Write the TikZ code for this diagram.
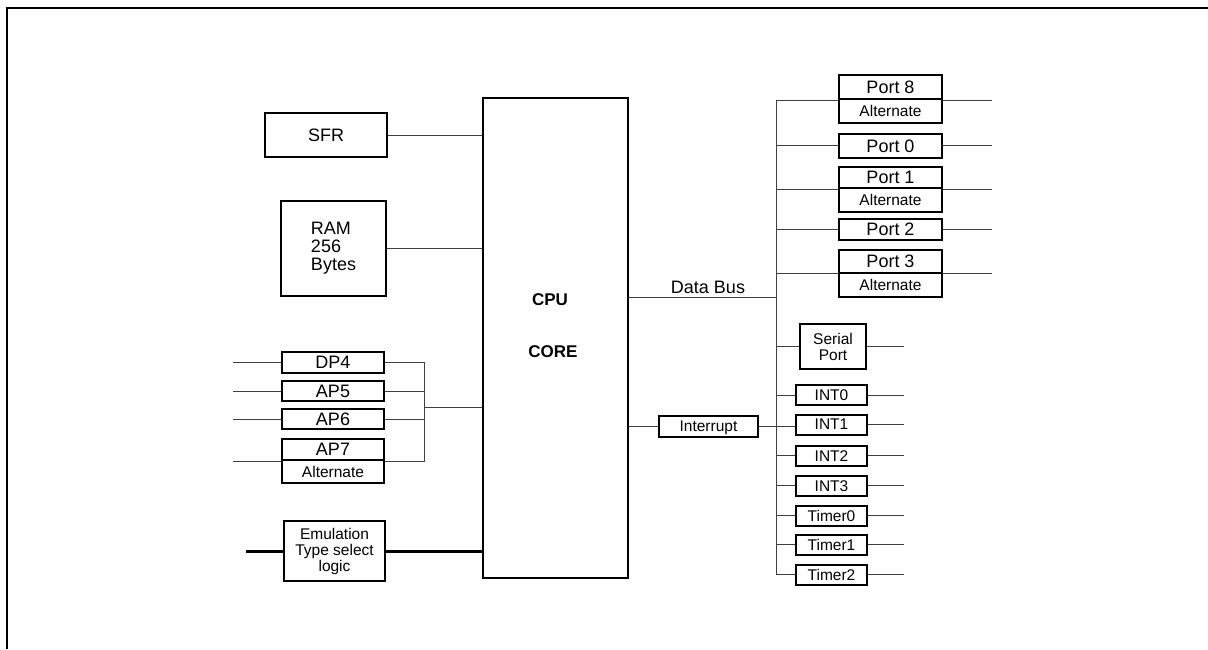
\documentclass[tikz,border=0pt]{standalone}
\usepackage{fontspec}
\setmainfont{Liberation Sans}
\begin{document}
\begin{tikzpicture}[x=1pt,y=-1pt,
  box/.style={draw, line width=2pt, inner sep=0pt, font=\fontsize{18}{20}\selectfont},
  sbox/.style={box, font=\fontsize{15.5}{16}\selectfont},
  wire/.style={line width=1pt, draw=black!75},
  heavy/.style={line width=3pt, draw=black},
  frame/.style={line width=2pt, draw=black}]
\useasboundingbox (0,0) rectangle (1208,649);
\draw[frame] (7,649) -- (7,8) -- (1208,8);

% left column
\node[box, minimum width=122pt, minimum height=44pt] (sfr) at (326,135) {SFR};
\node[box, minimum width=105pt, minimum height=95pt, align=left, font=\fontsize{18}{18}\selectfont] (ram) at (333.5,248.5) {RAM\\256\\Bytes};
\node[box, minimum width=145pt, minimum height=480pt] (cpu) at (555.5,338) {};
\node[font=\bfseries\fontsize{17}{19}\selectfont, anchor=base] (cputxt) at (550,305) {CPU};
\node[font=\bfseries\fontsize{17}{19}\selectfont, anchor=base] (coretxt) at (553,357) {CORE};

\node[box, minimum width=102pt, minimum height=21pt] (dp4) at (333,362.5) {DP4};
\node[box, minimum width=102pt, minimum height=20pt] (ap5) at (333,391) {AP5};
\node[box, minimum width=102pt, minimum height=20pt] (ap6) at (333,419) {AP6};
\node[box, minimum width=102pt, minimum height=21pt] (ap7) at (333,449.5) {AP7};
\node[sbox, minimum width=102pt, minimum height=23pt] (ap7a) at (333,471.5) {Alternate};
\node[sbox, minimum width=101pt, minimum height=60pt, align=center, font=\fontsize{15.5}{16}\selectfont] (emu) at (334.5,551) {Emulation\\Type select\\logic};

\coordinate (outL) at (233,0);
\coordinate (emuL) at (246,0);
\coordinate (lbus) at (424,0);
\coordinate (lmid) at (424,407);

\draw[wire] (dp4.west -| outL) -- (dp4.west);
\draw[wire] (ap5.west -| outL) -- (ap5.west);
\draw[wire] (ap6.west -| outL) -- (ap6.west);
\draw[wire] (ap7.south west -| outL) -- (ap7.south west);
\draw[wire] (dp4.east) -- (dp4.east -| lbus) -- (ap7.south east -| lbus) -- (ap7.south east);
\draw[wire] (ap5.east) -- (ap5.east -| lbus);
\draw[wire] (ap6.east) -- (ap6.east -| lbus);
\draw[wire] (lmid) -- (lmid -| cpu.west);
\draw[wire] (sfr.east) -- (sfr.east -| cpu.west);
\draw[wire] (ram.east) -- (ram.east -| cpu.west);
\draw[heavy] (emu.west -| emuL) -- (emu.west);
\draw[heavy] (emu.east) -- (emu.east -| cpu.west);

% right column
\node[box, minimum width=103pt, minimum height=24.3pt] (p8) at (890.5,87.2) {Port 8};
\node[sbox, minimum width=103pt, minimum height=24pt] (p8a) at (890.5,111.3) {Alternate};
\node[box, minimum width=103pt, minimum height=23.7pt] (p0) at (890.5,145.9) {Port 0};
\node[box, minimum width=103pt, minimum height=21.6pt] (p1) at (890.5,177.5) {Port 1};
\node[sbox, minimum width=103pt, minimum height=23.4pt] (p1a) at (890.5,200) {Alternate};
\node[box, minimum width=103pt, minimum height=21.3pt] (p2) at (890.5,229.7) {Port 2};
\node[box, minimum width=103pt, minimum height=23pt] (p3) at (890.5,261.2) {Port 3};
\node[sbox, minimum width=103pt, minimum height=24pt] (p3a) at (890.5,284.7) {Alternate};

\node[sbox, minimum width=66pt, minimum height=45pt, align=center] (ser) at (833,346.5) {Serial\\Port};
\node[sbox, minimum width=71pt, minimum height=20pt] (i0) at (831.5,395) {INT0};
\node[sbox, minimum width=71pt, minimum height=20pt] (i1) at (831.5,424.5) {INT1};
\node[sbox, minimum width=71pt, minimum height=20pt] (i2) at (831.5,455.9) {INT2};
\node[sbox, minimum width=71pt, minimum height=20pt] (i3) at (831.5,485.9) {INT3};
\node[sbox, minimum width=71pt, minimum height=20pt] (t0) at (831.5,515.9) {Timer0};
\node[sbox, minimum width=71pt, minimum height=20pt] (t1) at (831.5,544.9) {Timer1};
\node[sbox, minimum width=71pt, minimum height=20pt] (t2) at (831.5,574.7) {Timer2};
\node[sbox, minimum width=99pt, minimum height=21pt, text depth=0pt] (intr) at (708.5,426) {Interrupt};

\coordinate (rbus) at (776,0);
\coordinate (outR) at (992,0);
\coordinate (outS) at (904,0);
\coordinate (db) at (776,297);
\node[font=\fontsize{18}{20}\selectfont, anchor=base] (dbl) at (708,293) {Data Bus};

\draw[wire] (db -| cpu.east) -- (db);
\draw[wire] (p8.south west -| rbus) -- (t2.west -| rbus);

\draw[wire] (p8.south west -| rbus) -- (p8.south west);
\draw[wire] (p8.south east) -- (p8.south east -| outR);
\draw[wire] (p0.west -| rbus) -- (p0.west);
\draw[wire] (p0.east) -- (p0.east -| outR);
\draw[wire] (p1.south west -| rbus) -- (p1.south west);
\draw[wire] (p1.south east) -- (p1.south east -| outR);
\draw[wire] (p2.west -| rbus) -- (p2.west);
\draw[wire] (p2.east) -- (p2.east -| outR);
\draw[wire] (p3.south west -| rbus) -- (p3.south west);
\draw[wire] (p3.south east) -- (p3.south east -| outR);

\foreach \n in {ser,i0,i2,i3,t0,t1,t2}{
  \draw[wire] (\n.west -| rbus) -- (\n.west);
  \draw[wire] (\n.east) -- (\n.east -| outS);
}
\draw[wire] (i1.east) -- (i1.east -| outS);
\draw[wire] (intr.west -| cpu.east) -- (intr.west);
\draw[wire] (intr.east) -- (intr.east -| i1.west);
\end{tikzpicture}
\end{document}
